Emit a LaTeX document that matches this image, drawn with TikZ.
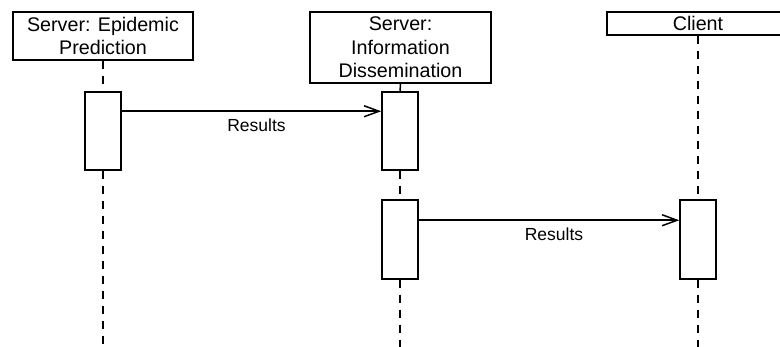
\documentclass[tikz,border=0pt]{standalone}
\usepackage{fontspec}
\setmainfont{Liberation Sans}
\usetikzlibrary{arrows.meta}
\begin{document}
\begin{tikzpicture}[x=1pt,y=-1pt,
  header/.style={draw, line width=1.5pt, fill=white, align=center, inner sep=0pt,
    font=\fontsize{19.7}{23.5}\selectfont},
  actbox/.style={draw, line width=1.5pt, fill=white, minimum width=36pt, inner sep=0pt},
  lifeline/.style={line width=1.5pt, dash pattern=on 8pt off 7pt},
  msg/.style={line width=1.5pt, -{Straight Barb[length=15pt,width=11pt,line width=1.5pt]}},
  msglabel/.style={font=\fontsize{17.5}{21}\selectfont, inner sep=0pt}]
  \useasboundingbox (0,0) rectangle (780,347);
  \begin{scope}
    \clip (0,0) rectangle (780,347);
    % participants
    \node[header, minimum width=180pt, minimum height=48pt] (ep) at (103,36)
      {Server: Epidemic\\Prediction};
    \node[header, minimum width=181pt, minimum height=71pt] (id) at (400.5,47.5)
      {Server:\\Information\\Dissemination};
    \node[header, minimum width=182pt, minimum height=23pt] (cl) at (698,23.5) {Client};
    % activations
    \node[actbox, minimum height=78pt] (a1) at (103,131) {};
    \node[actbox, minimum height=78pt] (a2) at (400,131) {};
    \node[actbox, minimum height=79pt] (a3) at (400,239.5) {};
    \node[actbox, minimum height=79pt] (a4) at (698,239.5) {};
    \coordinate (e1) at (103,347);
    \coordinate (e2) at (400,347);
    \coordinate (e3) at (698,347);
    % lifelines
    \draw[lifeline] (ep.south) -- (a1.north);
    \draw[lifeline] (a1.south) -- (e1);
    \draw[lifeline] (id.south) -- (a2.north);
    \draw[lifeline] (a2.south) -- (a3.north);
    \draw[lifeline] (a3.south) -- (e2);
    \draw[lifeline] (cl.south) -- (a4.north);
    \draw[lifeline] (a4.south) -- (e3);
    % messages
    \draw[msg] ([yshift=-20pt]a1.north east) -- node[msglabel, below=7pt, xshift=5pt] {Results}
      ([yshift=-20pt]a2.north west);
    \draw[msg] ([yshift=-21pt]a3.north east) -- node[msglabel, below=7pt, xshift=5pt] {Results}
      ([yshift=-21pt]a4.north west);
  \end{scope}
\end{tikzpicture}
\end{document}
